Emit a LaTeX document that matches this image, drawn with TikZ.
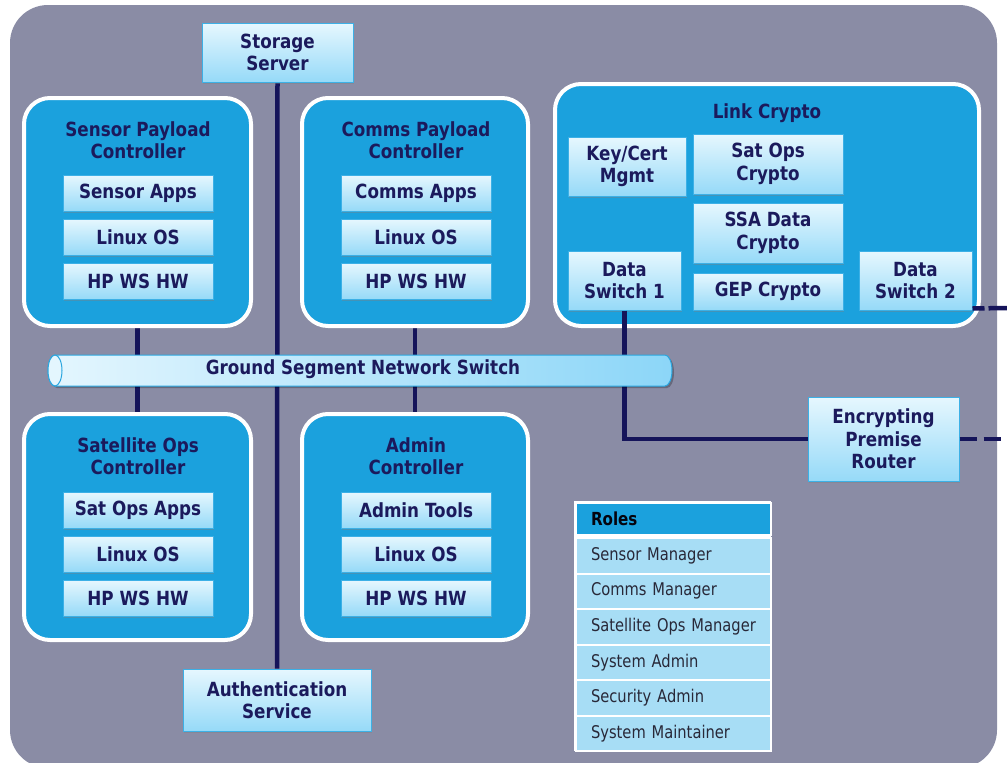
\documentclass[tikz,border=0pt]{standalone}
\usepackage{fontspec}
\setmainfont{DejaVu Sans}[FakeStretch=0.86]
\newfontfamily\rolefont{DejaVu Sans}[FakeStretch=0.84]
\usetikzlibrary{shadows}

\definecolor{canvas}{RGB}{138,140,165}
\definecolor{panel}{RGB}{27,161,221}
\definecolor{ink}{RGB}{27,26,92}
\definecolor{wire}{RGB}{21,20,90}
\definecolor{boxtop}{RGB}{230,247,254}
\definecolor{boxbot}{RGB}{150,218,248}
\definecolor{boxedge}{RGB}{60,176,230}
\definecolor{busL}{RGB}{228,246,254}
\definecolor{busR}{RGB}{140,214,248}
\definecolor{busedge}{RGB}{42,166,223}
\definecolor{rolefill}{RGB}{167,221,245}
\definecolor{roletext}{RGB}{40,40,56}

\pgfdeclarelayer{back}
\pgfdeclarelayer{wires}
\pgfsetlayers{back,wires,main}

\tikzset{
  lbl/.style={font=\bfseries\fontsize{19.5}{22.5}\selectfont, text=ink, align=center},
  tile/.style={lbl, draw=boxedge, line width=1pt, top color=boxtop, bottom color=boxbot,
    inner sep=0pt, drop shadow={shadow xshift=1.2pt, shadow yshift=-1.6pt, opacity=0.4}},
  panelbox/.style={draw=white, line width=4pt, fill=panel, rounded corners=26pt, inner sep=0pt,
    drop shadow={shadow xshift=1.5pt, shadow yshift=-2pt, opacity=0.3}},
  wireline/.style={draw=wire, line width=4.5pt},
  dashwire/.style={wireline, dash pattern=on 17pt off 7pt},
  rolerow/.style={draw=white, line width=2pt, fill=rolefill, anchor=north west,
    minimum height=35.5pt, inner xsep=15pt, text width=165pt, align=left,
    text=roletext, font=\rolefont\fontsize{17.5}{20}\selectfont},
  rolehead/.style={rolerow, fill=panel, minimum height=32pt, text=black!85!ink,
    font=\rolefont\bfseries\fontsize{18}{20}\selectfont},
}

\begin{document}
\begin{tikzpicture}[x=1pt, y=-1pt]
\useasboundingbox (0,0) rectangle (1007,763);

\begin{pgfonlayer}{back}
  \fill[canvas, rounded corners=38pt] (10,5) rectangle (997,768);
\end{pgfonlayer}

% servers on the backbone
\node[tile, minimum width=151pt, minimum height=59pt] (storage) at (277.5,52.5) {Storage\\Server};
\node[tile, minimum width=188pt, minimum height=62pt] (auth) at (277,700) {Authentication\\Service};

% controller panels
\node[panelbox, minimum width=227pt, minimum height=228pt] (spc) at (137.5,212) {};
\node[panelbox, minimum width=226pt, minimum height=228pt] (cpc) at (415,212) {};
\node[panelbox, minimum width=227pt, minimum height=226pt] (soc) at (137.5,527) {};
\node[panelbox, minimum width=226pt, minimum height=226pt] (adm) at (415,527) {};
\node[panelbox, minimum width=424pt, minimum height=242pt] (lc) at (767,205) {};

\node[lbl] (spcT) at (138,140) {Sensor Payload\\Controller};
\node[tile, minimum width=150pt, minimum height=36pt] (spc1) at (138,193) {Sensor Apps};
\node[tile, minimum width=150pt, minimum height=36pt] (spc2) at (138,237) {Linux OS};
\node[tile, minimum width=150pt, minimum height=36pt] (spc3) at (138,281) {HP WS HW};

\node[lbl] (cpcT) at (416,140) {Comms Payload\\Controller};
\node[tile, minimum width=150pt, minimum height=36pt] (cpc1) at (416,193) {Comms Apps};
\node[tile, minimum width=150pt, minimum height=36pt] (cpc2) at (416,237) {Linux OS};
\node[tile, minimum width=150pt, minimum height=36pt] (cpc3) at (416,281) {HP WS HW};

\node[lbl] (socT) at (138,456) {Satellite Ops\\Controller};
\node[tile, minimum width=150pt, minimum height=36pt] (soc1) at (138,510) {Sat Ops Apps};
\node[tile, minimum width=150pt, minimum height=36pt] (soc2) at (138,554) {Linux OS};
\node[tile, minimum width=150pt, minimum height=36pt] (soc3) at (138,598) {HP WS HW};

\node[lbl] (admT) at (416,456) {Admin\\Controller};
\node[tile, minimum width=150pt, minimum height=36pt] (adm1) at (416,510) {Admin Tools};
\node[tile, minimum width=150pt, minimum height=36pt] (adm2) at (416,554) {Linux OS};
\node[tile, minimum width=150pt, minimum height=36pt] (adm3) at (416,598) {HP WS HW};

% link crypto contents
\node[lbl] (lcT) at (767,113) {Link Crypto};
\node[tile, minimum width=118pt, minimum height=59pt] (kcm) at (627,166.5) {Key/Cert\\Mgmt};
\node[tile, minimum width=150pt, minimum height=60pt] (socry) at (768,164) {Sat Ops\\Crypto};
\node[tile, minimum width=150pt, minimum height=60pt] (ssa) at (768,233) {SSA Data\\Crypto};
\node[tile, minimum width=150pt, minimum height=37pt] (gep) at (768,291.5) {GEP Crypto};
\node[tile, minimum width=113pt, minimum height=59pt] (ds1) at (624.5,280.5) {Data\\Switch 1};
\node[tile, minimum width=113pt, minimum height=59pt] (ds2) at (915.5,280.5) {Data\\Switch 2};

\node[tile, minimum width=151pt, minimum height=84pt] (router) at (883.5,439) {Encrypting\\Premise\\Router};

% backbone wiring
\begin{pgfonlayer}{wires}
  \draw[wireline] (storage.south) -- (auth.north);
  \draw[wireline] (spc.south) -- (soc.north);
  \draw[wireline] (cpc.south) -- (adm.north);
\end{pgfonlayer}
\draw[wireline] (ds1.south) |- (router.west);

% ground segment network switch
\fill[black, opacity=0.25] (57,357) -- (667,357) arc[start angle=90, end angle=-90, x radius=7pt, y radius=15.5pt] -- (57,388) arc[start angle=270, end angle=90, x radius=7pt, y radius=15.5pt] -- cycle;
\shade[left color=busL, right color=busR, draw=busedge, line width=1pt]
  (55,355) -- (665,355) arc[start angle=90, end angle=-90, x radius=7pt, y radius=15.5pt]
  -- (55,386) arc[start angle=270, end angle=90, x radius=7pt, y radius=15.5pt] -- cycle;
\filldraw[fill=busL, draw=busedge, line width=1pt] (55,370.5) ellipse[x radius=7pt, y radius=15.5pt];
\node[lbl] (gsn) at (363,369) {Ground Segment Network Switch};

% off-page links
\coordinate (outA) at (1007,439);
\coordinate (outB) at (1007,308);
\draw[dashwire] (router.east) -- (outA);
\draw[wireline, dash pattern=on 12pt off 4pt on 20pt off 4pt] ([yshift=2pt]ds2.south east) -- (outB);

% roles table
\fill[white] (574,501) rectangle (771,751);
\node[rolehead] (roles) at (575,502) {Roles};
\node[rolerow] (r1) at (575,537) {Sensor Manager};
\node[rolerow] (r2) at (575,572.5) {Comms Manager};
\node[rolerow] (r3) at (575,608) {Satellite Ops Manager};
\node[rolerow] (r4) at (575,643.5) {System Admin};
\node[rolerow] (r5) at (575,679) {Security Admin};
\node[rolerow] (r6) at (575,714.5) {System Maintainer};
\end{tikzpicture}
\end{document}
